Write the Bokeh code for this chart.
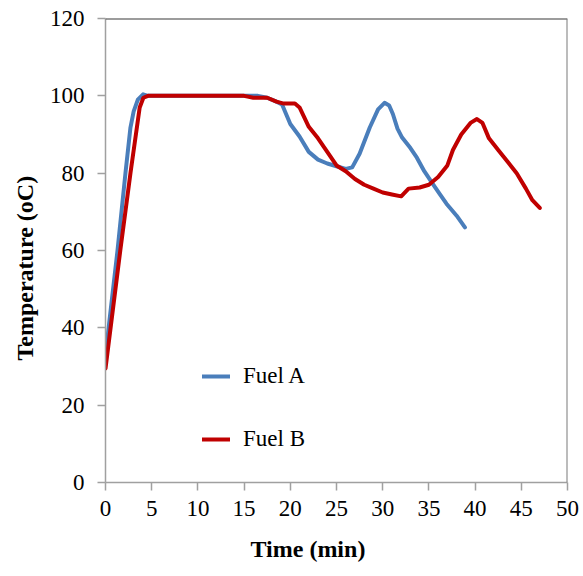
from bokeh.plotting import figure
from bokeh.models import Range1d, Span, Legend, LegendItem, FixedTicker, Title
from bokeh.embed import file_html
from bokeh.resources import INLINE

fuel_a_time = [0, 1.3, 2.16, 2.7, 3.05, 3.5, 4.07, 4.6, 10, 15, 16.5, 17.5, 18.5, 19.1, 19.6, 20,
               21, 22, 23, 24, 25, 26, 26.7, 27.5, 28.6, 29.5, 30.2, 30.7, 31.1, 31.6, 32.1,
               33, 33.7, 34.5, 35.4, 36.2, 36.9, 38, 38.9]
fuel_a_temp = [33, 60, 80, 91.8, 96, 99, 100.4, 100, 100, 100, 100, 99.5, 98.5, 97.8, 95, 92.7,
               89.5, 85.5, 83.5, 82.5, 81.8, 81.1, 81.5, 85, 91.8, 96.5, 98.2, 97.5, 95.3, 91.5, 89.2,
               86.5, 84, 80.5, 77.3, 74.5, 72.1, 69, 66]

fuel_b_time = [0, 1.6, 2.7, 3.7, 4.1, 4.6, 10, 15, 16, 17.5, 18.5, 19.3, 20.5, 21, 22, 23, 24, 25,
               26, 27, 28, 29, 30, 31, 32, 32.8, 34, 35, 36, 37, 37.6, 38.5, 39.5, 40.2, 40.8,
               41.5, 42.5, 43.5, 44.5, 45.5, 46.2, 47]
fuel_b_temp = [29.5, 60, 80, 97, 99.5, 100, 100, 100, 99.5, 99.5, 98.5, 98, 98, 97, 92, 89, 85.5, 82,
               80.5, 78.5, 77, 76, 75, 74.5, 74, 76, 76.3, 77, 79, 82, 86, 90, 93, 94, 93,
               89, 86, 83, 80, 76, 73, 71]

x_ticks = [0, 5, 10, 15, 20, 25, 30, 35, 40, 45, 50]
y_ticks = [0, 20, 40, 60, 80, 100, 120]

FONT = "Liberation Serif"

p = figure(width=583, height=576, output_backend="svg", toolbar_location=None,
           x_range=Range1d(0, 50), y_range=Range1d(0, 120),
           min_border_left=105, min_border_right=16, min_border_top=18, min_border_bottom=94)
p.background_fill_color = "white"
p.border_fill_color = "white"
p.outline_line_color = None
p.xgrid.grid_line_color = None
p.ygrid.grid_line_color = None

for ax in (p.xaxis[0], p.yaxis[0]):
    ax.axis_line_color = "#a0a0a0"
    ax.axis_line_width = 1.5
    ax.major_tick_line_color = "#a0a0a0"
    ax.major_tick_line_width = 1.5
    ax.major_tick_in = 0
    ax.major_tick_out = 8
    ax.minor_tick_line_color = None
    ax.major_label_text_font = FONT
    ax.major_label_text_font_size = "23px"
    ax.major_label_text_color = "black"

p.xaxis[0].ticker = FixedTicker(ticks=x_ticks)
p.yaxis[0].ticker = FixedTicker(ticks=y_ticks)
p.xaxis[0].major_label_standoff = 10
p.yaxis[0].major_label_standoff = 13

p.add_layout(Title(text="Temperature (oC)", align="left", offset=122, standoff=18,
                   text_font=FONT, text_font_size="24px", text_font_style="bold",
                   text_color="black"), "left")
p.add_layout(Title(text="Time (min)", align="left", offset=145, standoff=30,
                   text_font=FONT, text_font_size="24px", text_font_style="bold",
                   text_color="black"), "below")

p.add_layout(Span(location=120, dimension="width", line_color="#3a3a3a", line_width=2))
p.add_layout(Span(location=50, dimension="height", line_color="#7a7a7a", line_width=2))

ra = p.line(fuel_a_time, fuel_a_temp, line_color="#4A7EBB", line_width=4, line_join="round", line_cap="round")
rb = p.line(fuel_b_time, fuel_b_temp, line_color="#C00000", line_width=4, line_join="round", line_cap="round")

legend = Legend(items=[LegendItem(label="Fuel A", renderers=[ra]),
                       LegendItem(label="Fuel B", renderers=[rb])],
                location=(97, 28), padding=0, margin=0, spacing=33,
                glyph_width=28, glyph_height=30, label_height=30, label_standoff=13,
                label_text_font=FONT, label_text_font_size="23px", label_text_color="black",
                border_line_color=None, background_fill_alpha=0)
p.add_layout(legend)

open("out.html", "w").write(file_html(p, INLINE))
